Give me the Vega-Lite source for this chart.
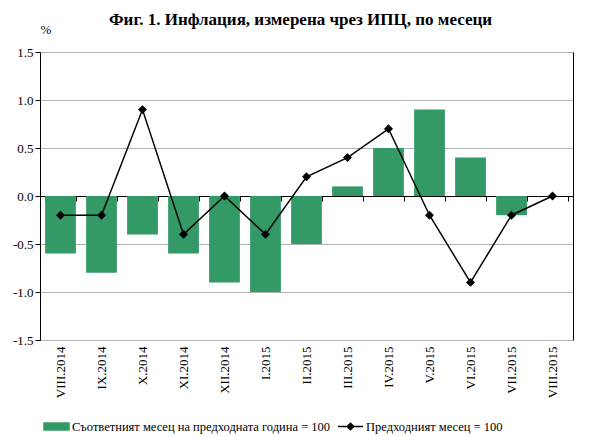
{
  "$schema": "https://vega.github.io/schema/vega-lite/v6.json",
  "width": 533,
  "height": 288,
  "autosize": {"type": "none"},
  "padding": {"left": 40, "top": 52, "right": 26, "bottom": 97},
  "config": {
    "font": "Liberation Serif",
    "view": {"stroke": null},
    "axis": {"labelColor": "black", "labelFont": "Liberation Serif", "labelFontSize": 13}
  },
  "title": {
    "text": "Фиг. 1. Инфлация, измерена чрез ИПЦ, по месеци",
    "font": "Liberation Serif",
    "fontSize": 17,
    "fontWeight": "bold",
    "anchor": "middle",
    "offset": -6,
    "dx": -6
  },
  "data": {
    "values": [
      {"m": "VIII.2014", "s": "Съответният месец на предходната година = 100", "v": -0.6},
      {"m": "IX.2014", "s": "Съответният месец на предходната година = 100", "v": -0.8},
      {"m": "X.2014", "s": "Съответният месец на предходната година = 100", "v": -0.4},
      {"m": "XI.2014", "s": "Съответният месец на предходната година = 100", "v": -0.6},
      {"m": "XII.2014", "s": "Съответният месец на предходната година = 100", "v": -0.9},
      {"m": "I.2015", "s": "Съответният месец на предходната година = 100", "v": -1.0},
      {"m": "II.2015", "s": "Съответният месец на предходната година = 100", "v": -0.5},
      {"m": "III.2015", "s": "Съответният месец на предходната година = 100", "v": 0.1},
      {"m": "IV.2015", "s": "Съответният месец на предходната година = 100", "v": 0.5},
      {"m": "V.2015", "s": "Съответният месец на предходната година = 100", "v": 0.9},
      {"m": "VI.2015", "s": "Съответният месец на предходната година = 100", "v": 0.4},
      {"m": "VII.2015", "s": "Съответният месец на предходната година = 100", "v": -0.2},
      {"m": "VIII.2015", "s": "Съответният месец на предходната година = 100", "v": 0.0},
      {"m": "VIII.2014", "s": "Предходният месец = 100", "v": -0.2},
      {"m": "IX.2014", "s": "Предходният месец = 100", "v": -0.2},
      {"m": "X.2014", "s": "Предходният месец = 100", "v": 0.9},
      {"m": "XI.2014", "s": "Предходният месец = 100", "v": -0.4},
      {"m": "XII.2014", "s": "Предходният месец = 100", "v": 0.0},
      {"m": "I.2015", "s": "Предходният месец = 100", "v": -0.4},
      {"m": "II.2015", "s": "Предходният месец = 100", "v": 0.2},
      {"m": "III.2015", "s": "Предходният месец = 100", "v": 0.4},
      {"m": "IV.2015", "s": "Предходният месец = 100", "v": 0.7},
      {"m": "V.2015", "s": "Предходният месец = 100", "v": -0.2},
      {"m": "VI.2015", "s": "Предходният месец = 100", "v": -0.9},
      {"m": "VII.2015", "s": "Предходният месец = 100", "v": -0.2},
      {"m": "VIII.2015", "s": "Предходният месец = 100", "v": 0.0}
    ]
  },
  "layer": [
    {
      "transform": [{"filter": "datum.s === 'Съответният месец на предходната година = 100'"}],
      "mark": {"type": "bar"},
      "encoding": {
        "x": {
          "field": "m", "type": "ordinal", "sort": null,
          "scale": {"paddingInner": 0.25, "paddingOuter": 0.125},
          "axis": {
            "orient": "bottom", "title": null, "labelAngle": -90, "labelAlign": "right",
            "labelBaseline": "middle", "domain": false, "ticks": false, "labelPadding": 6
          }
        },
        "y": {
          "field": "v", "type": "quantitative",
          "scale": {"domain": [-1.5, 1.5], "nice": false},
          "axis": {
            "orient": "left",
            "values": [-1.5, -1, -0.5, 0, 0.5, 1, 1.5],
            "labelExpr": "replace(format(datum.value, '.1f'), '−', '-')",
            "grid": true, "gridColor": "#b0b0b0",
            "domain": true, "domainColor": "black",
            "ticks": true, "tickColor": "black", "tickSize": 5,
            "title": "%", "titleAngle": 0, "titleX": 0, "titleY": -16,
            "titleAlign": "left", "titleFontWeight": "normal", "titleFontSize": 13,
            "titleFont": "Liberation Serif"
          }
        },
        "color": {
          "field": "s", "type": "nominal", "sort": null,
          "scale": {
            "domain": ["Съответният месец на предходната година = 100", "Предходният месец = 100"],
            "range": ["#339966", "#000000"]
          },
          "legend": {
            "orient": "none", "legendX": 3, "legendY": 361, "direction": "horizontal",
            "title": null, "labelFontSize": 12.5, "labelFont": "Liberation Serif",
            "labelLimit": 400,
            "symbolSize": 625, "columnPadding": 4, "labelOffset": 2,
            "encode": {
              "symbols": {
                "update": {
                  "shape": {"signal": "datum.index === 0 ? 'M-1,-0.28L1,-0.28L1,0.28L-1,0.28Z' : 'M-1,0L1,0M0,-0.26L0.26,0L0,0.26L-0.26,0Z'"},
                  "fill": {"signal": "datum.index === 0 ? '#339966' : '#000000'"},
                  "stroke": {"signal": "datum.index === 0 ? '#339966' : '#000000'"},
                  "strokeWidth": {"value": 1.5}
                }
              }
            }
          }
        }
      }
    },
    {
      "transform": [{"filter": "datum.s === 'Предходният месец = 100'"}],
      "mark": {
        "type": "line", "strokeWidth": 1.5,
        "point": {"shape": "diamond", "filled": true, "size": 80, "color": "black"}
      },
      "encoding": {
        "x": {
          "field": "m", "type": "ordinal", "sort": null,
          "axis": {
            "orient": "top", "offset": -144, "title": null, "labels": false,
            "domain": true, "domainColor": "black", "ticks": true, "tickBand": "extent",
            "tickColor": "black", "tickSize": -5, "grid": false
          }
        },
        "y": {
          "field": "v", "type": "quantitative",
          "axis": {
            "orient": "right", "labels": false, "ticks": false, "grid": false,
            "domain": true, "domainColor": "black", "title": null
          }
        },
        "color": {"field": "s", "type": "nominal", "sort": null}
      }
    }
  ],
  "resolve": {"axis": {"x": "independent", "y": "independent"}}
}
